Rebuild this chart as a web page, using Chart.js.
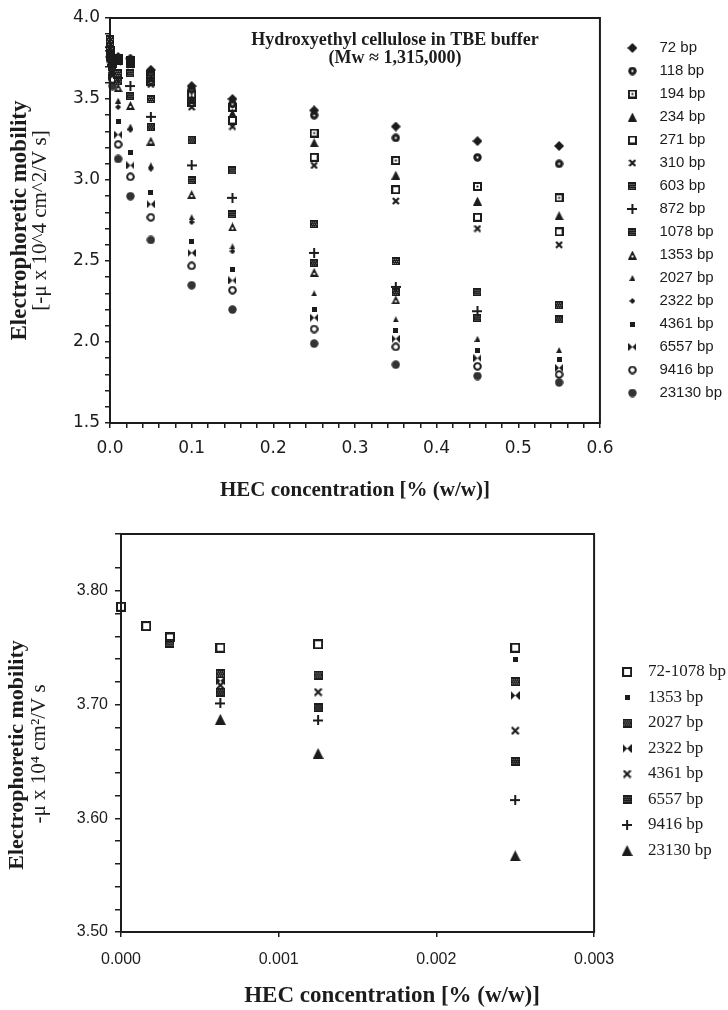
<!DOCTYPE html>
<html>
<head>
<meta charset="utf-8">
<script src="https://cdn.jsdelivr.net/npm/chart.js@4.4.1/dist/chart.umd.min.js"></script>
<style>
  html, body { margin: 0; padding: 0; background: #fff; width: 728px; height: 1010px; overflow: hidden; }
  canvas { position: absolute; left: 0; }
  #topChart { top: 0; }
  #lowChart { top: 505px; }
</style>
</head>
<body>
<canvas id="topChart" width="732" height="505"></canvas>
<canvas id="lowChart" width="736" height="505"></canvas>
<script>
/* ---------- upper panel: HEC 0 - 0.55 % ---------- */
const topConc = [0, 0.003, 0.01, 0.025, 0.05, 0.1, 0.15, 0.25, 0.35, 0.45, 0.55];
const bp72    = [3.76, 3.74, 3.76, 3.75, 3.68, 3.58, 3.50, 3.43, 3.33, 3.24, 3.21];
const bp118   = [3.77, 3.73, 3.75, 3.74, 3.66, 3.56, 3.47, 3.40, 3.26, 3.14, 3.10];
const bp194   = [3.78, 3.73, 3.75, 3.74, 3.65, 3.53, 3.45, 3.29, 3.12, 2.96, 2.89];
const bp234   = [3.79, 3.72, 3.74, 3.73, 3.63, 3.50, 3.41, 3.23, 3.03, 2.87, 2.78];
const bp271   = [3.80, 3.72, 3.74, 3.72, 3.61, 3.48, 3.37, 3.14, 2.94, 2.77, 2.68];
const bp310   = [3.81, 3.71, 3.73, 3.71, 3.59, 3.45, 3.33, 3.09, 2.87, 2.70, 2.60];
const bp603   = [3.87, 3.72, 3.66, 3.66, 3.50, 3.25, 3.06, 2.73, 2.50, 2.31, 2.23];
const bp872   = [3.82, 3.71, 3.63, 3.58, 3.39, 3.09, 2.89, 2.55, 2.34, 2.19, null];
const bp1078  = [3.84, 3.70, 3.61, 3.52, 3.33, 3.00, 2.79, 2.49, 2.31, 2.15, 2.14];
const bp1353  = [3.80, 3.69, 3.57, 3.46, 3.24, 2.91, 2.71, 2.43, 2.26, null, null];
const bp2027  = [3.78, 3.68, 3.49, 3.33, 3.09, 2.77, 2.59, 2.30, 2.14, 2.02, 1.95];
const bp2322  = [3.77, 3.67, 3.45, 3.31, 3.07, 2.74, 2.56, null, null, null, null];
const bp4361  = [3.79, 3.66, 3.36, 3.17, 2.92, 2.62, 2.45, 2.20, 2.07, 1.95, 1.89];
const bp6557  = [3.76, 3.64, 3.28, 3.09, 2.85, 2.55, 2.38, 2.15, 2.02, 1.90, 1.84];
const bp9416  = [3.75, 3.62, 3.22, 3.02, 2.77, 2.47, 2.32, 2.08, 1.97, 1.85, 1.80];
const bp23130 = [3.74, 3.58, 3.13, 2.90, 2.63, 2.35, 2.20, 1.99, 1.86, 1.79, 1.75];

/* ---------- lower panel: HEC 0 - 0.003 % ---------- */
const lowConc      = [0, 0.00016, 0.00031, 0.00063, 0.00125, 0.0025];
const low72to1078  = [3.786, 3.769, 3.759, 3.750, 3.753, 3.750];
const low1353      = [null, null, null, null, null, 3.740];
const low2027      = [null, null, 3.754, 3.727, 3.726, 3.720];
const low2322      = [null, null, null, 3.721, null, 3.708];
const low4361      = [null, null, null, 3.717, 3.711, 3.677];
const low6557      = [null, null, null, 3.711, 3.697, 3.650];
const low9416      = [null, null, null, 3.701, 3.686, 3.616];
const low23130     = [null, null, null, 3.687, 3.657, 3.567];

const INK = '#1c1c1c';

// little bitmap markers, the scan uses a lot of odd symbols
function glyph(size, draw) {
  const c = document.createElement('canvas');
  c.width = size; c.height = size;
  const g = c.getContext('2d');
  g.fillStyle = INK; g.strokeStyle = INK; g.lineWidth = 2;
  draw(g, size);
  return c;
}
function speckled(s, light) {
  return glyph(s, g => {
    g.fillRect(0, 0, s, s);
    g.fillStyle = light;
    for (let i = 1; i < s - 1; i++)
      for (let j = 1; j < s - 1; j++)
        if ((i * 2 + j) % 4 === 0) g.fillRect(i, j, 1, 1);
  });
}
const diamond = s => glyph(s, g => {
  g.beginPath(); g.moveTo(s / 2, 0); g.lineTo(s, s / 2); g.lineTo(s / 2, s); g.lineTo(0, s / 2); g.closePath(); g.fill();
});
const dotCircle = s => glyph(s, g => {
  g.beginPath(); g.arc(s / 2, s / 2, s / 2 - 0.3, 0, Math.PI * 2); g.fill();
  g.fillStyle = '#fff'; g.fillRect(s / 2 - 1, s / 2 - 1, 2, 2);
});
const dotSquare = s => glyph(s, g => { g.strokeRect(1, 1, s - 2, s - 2); g.fillRect(s / 2 - 1, s / 2 - 1, 2, 2); });
const openSquare = s => glyph(s, g => g.strokeRect(1, 1, s - 2, s - 2));
const solidSquare = s => glyph(s, g => g.fillRect(0, 0, s, s));
const triangle = (s, hole) => glyph(s, g => {
  g.beginPath(); g.moveTo(s / 2, 0); g.lineTo(s, s); g.lineTo(0, s); g.closePath(); g.fill();
  if (hole) { g.fillStyle = '#fff'; g.fillRect(s / 2 - 1, s * 0.55, 2, 2); }
});
const cross = s => glyph(s, g => {
  g.lineWidth = 2.2; g.beginPath();
  g.moveTo(1, 1); g.lineTo(s - 1, s - 1); g.moveTo(s - 1, 1); g.lineTo(1, s - 1); g.stroke();
});
const plus = s => glyph(s, g => { g.fillRect(0, s / 2 - 1, s, 2); g.fillRect(s / 2 - 1, 0, 2, s); });
const bowtie = s => glyph(s, g => {
  g.beginPath();
  g.moveTo(0, 0); g.lineTo(s / 2, s / 2); g.lineTo(0, s); g.closePath();
  g.moveTo(s, 0); g.lineTo(s / 2, s / 2); g.lineTo(s, s); g.closePath();
  g.fill();
});
const openCircle = s => glyph(s, g => { g.beginPath(); g.arc(s / 2, s / 2, s / 2 - 1.2, 0, Math.PI * 2); g.stroke(); });
const solidCircle = s => glyph(s, g => {
  g.fillStyle = '#333'; g.beginPath(); g.arc(s / 2, s / 2, s / 2 - 0.3, 0, Math.PI * 2); g.fill();
});

const topSeries = [
  ['72 bp', bp72, diamond(10)],
  ['118 bp', bp118, dotCircle(9)],
  ['194 bp', bp194, dotSquare(9)],
  ['234 bp', bp234, triangle(9)],
  ['271 bp', bp271, openSquare(9)],
  ['310 bp', bp310, cross(8)],
  ['603 bp', bp603, speckled(8, '#8a8a8a')],
  ['872 bp', bp872, plus(10)],
  ['1078 bp', bp1078, speckled(8, '#777')],
  ['1353 bp', bp1353, triangle(9, true)],
  ['2027 bp', bp2027, triangle(6)],
  ['2322 bp', bp2322, diamond(6)],
  ['4361 bp', bp4361, solidSquare(5)],
  ['6557 bp', bp6557, bowtie(8)],
  ['9416 bp', bp9416, openCircle(9)],
  ['23130 bp', bp23130, solidCircle(9)]
];

const lowSeries = [
  ['72-1078 bp', low72to1078, openSquare(10)],
  ['1353 bp', low1353, solidSquare(5)],
  ['2027 bp', low2027, speckled(9, '#9a9a9a')],
  ['2322 bp', low2322, bowtie(9)],
  ['4361 bp', low4361, cross(9)],
  ['6557 bp', low6557, speckled(9, '#666')],
  ['9416 bp', low9416, plus(10)],
  ['23130 bp', low23130, triangle(11)]
];

function pts(xs, ys) {
  return xs.map((x, i) => ({ x, y: ys[i] })).filter(p => p.y != null);
}
function toDatasets(series, xs) {
  return series.map(([label, ys, style]) => ({
    label, data: pts(xs, ys), pointStyle: style, pointRadius: 4, clip: false
  }));
}
const isStep = (v, step) => Math.abs(v / step - Math.round(v / step)) < 1e-6;
// the scan's lower titles sit off centre; pad with spaces to nudge them
const pad = n => ' '.repeat(n);

// box round the plot area
const frame = {
  id: 'frame',
  afterDraw(chart) {
    const { ctx, chartArea: a } = chart;
    ctx.save();
    ctx.strokeStyle = INK; ctx.lineWidth = 2;
    ctx.strokeRect(a.left, a.top, a.right - a.left, a.bottom - a.top);
    ctx.restore();
  }
};

// caption inside the upper plot
const caption = {
  id: 'caption',
  afterDraw(chart, args, opts) {
    if (!opts.lines) return;
    const { ctx, scales } = chart;
    ctx.save();
    ctx.font = opts.font; ctx.fillStyle = INK;
    ctx.textAlign = 'center'; ctx.textBaseline = 'middle';
    const x = scales.x.getPixelForValue(opts.x);
    opts.lines.forEach((t, i) => ctx.fillText(t, x, scales.y.getPixelForValue(opts.y[i])));
    ctx.restore();
  }
};

function tickGrid(len) {
  return { drawOnChartArea: false, drawTicks: true, tickLength: len, color: INK, lineWidth: 1.5 };
}
const hidden = {
  ticks: { display: false },
  grid: { display: false, drawTicks: false },
  border: { display: false }
};

new Chart(document.getElementById('topChart'), {
  type: 'scatter',
  data: { datasets: toDatasets(topSeries, topConc) },
  options: {
    responsive: false, animation: false, events: [],
    layout: { padding: { top: 18, left: 0, right: 0, bottom: 0 } },
    plugins: {
      tooltip: { enabled: false },
      legend: {
        position: 'right', align: 'start', maxWidth: 300,
        title: { display: true, text: '', font: { size: 10 }, padding: { top: 0, bottom: 2.5 } },
        labels: {
          usePointStyle: true, pointStyleWidth: 39, padding: 8, color: INK,
          font: { family: 'Liberation Sans', size: 15 }
        }
      },
      caption: {
        x: 0.349, y: [3.864, 3.753],
        lines: ['Hydroxyethyl cellulose in TBE buffer', '(Mw \u2248 1,315,000)'],
        font: 'bold 18px "Liberation Serif"'
      }
    },
    scales: {
      x: {
        min: 0, max: 0.6,
        afterFit: s => { s.height = 82; },
        ticks: {
          stepSize: 0.02, autoSkip: false, maxRotation: 0, padding: 10, color: INK,
          font: { family: 'DejaVu Sans', size: 17 },
          callback: v => isStep(v, 0.1) ? v.toFixed(1) : ''
        },
        grid: tickGrid(5),
        border: { color: INK, width: 2 },
        title: {
          display: true, text: 'HEC concentration [% (w/w)]', color: INK,
          font: { family: 'Liberation Serif', size: 21, weight: 'bold' },
          padding: { top: 0, bottom: 1.4 }
        }
      },
      y: {
        min: 1.5, max: 4.0,
        afterFit: s => { s.width = 82; },
        ticks: {
          stepSize: 0.1, autoSkip: false, padding: 5, color: INK,
          font: { family: 'DejaVu Sans', size: 17 },
          callback: v => isStep(v, 0.5) ? v.toFixed(1) : ''
        },
        grid: tickGrid(5),
        border: { color: INK, width: 2 },
        title: {
          display: true, text: '[-\u03bc x 10^4 cm^2/V s]', color: INK,
          font: { family: 'Liberation Serif', size: 21 },
          padding: { top: 0, bottom: 0 }
        }
      },
      yName: {
        position: 'left', weight: 1, ...hidden,
        afterFit: s => { s.width = 28; },
        title: {
          display: true, text: 'Electrophoretic mobility', color: INK,
          font: { family: 'Liberation Serif', size: 23, weight: 'bold' },
          padding: { top: 6.2, bottom: 0 }
        }
      },
      gap: { position: 'right', ...hidden, afterFit: s => { s.width = 5; } }
    }
  },
  plugins: [frame, caption]
});

new Chart(document.getElementById('lowChart'), {
  type: 'scatter',
  data: { datasets: toDatasets(lowSeries, lowConc) },
  options: {
    responsive: false, animation: false, events: [],
    layout: { padding: { top: 29, left: 0, right: 0, bottom: 0 } },
    plugins: {
      tooltip: { enabled: false },
      legend: {
        position: 'right', align: 'start', maxWidth: 300,
        title: { display: true, text: '', font: { size: 10 }, padding: { top: 0, bottom: 109 } },
        labels: {
          usePointStyle: true, pointStyleWidth: 25, padding: 8.5, color: INK,
          font: { family: 'Liberation Serif', size: 17 }
        }
      }
    },
    scales: {
      x: {
        min: 0, max: 0.003,
        afterFit: s => { s.height = 78; },
        ticks: {
          stepSize: 0.001, autoSkip: false, maxRotation: 0, padding: 13, color: INK,
          font: { family: 'Liberation Sans', size: 16 },
          callback: v => v.toFixed(3)
        },
        grid: tickGrid(5),
        border: { color: INK, width: 2 },
        title: {
          display: true, text: pad(12) + 'HEC concentration [% (w/w)]', color: INK,
          font: { family: 'Liberation Serif', size: 23, weight: 'bold' },
          padding: { top: 0, bottom: 0 }
        }
      },
      y: {
        min: 3.5, max: 3.85,
        afterFit: s => { s.width = 94; },
        ticks: {
          stepSize: 0.02, autoSkip: false, padding: 7, color: INK,
          font: { family: 'Liberation Sans', size: 16 },
          callback: v => isStep(v, 0.1) ? v.toFixed(2) : ''
        },
        grid: tickGrid(6),
        border: { color: INK, width: 2 },
        title: {
          display: true, text: '-\u03bc x 10\u2074 cm\u00b2/V s' + pad(8), color: INK,
          font: { family: 'Liberation Serif', size: 21 },
          padding: { top: 0, bottom: 0 }
        }
      },
      yName: {
        position: 'left', weight: 1, ...hidden,
        afterFit: s => { s.width = 27; },
        title: {
          display: true, text: 'Electrophoretic mobility' + pad(8), color: INK,
          font: { family: 'Liberation Serif', size: 22, weight: 'bold' },
          padding: { top: 3.8, bottom: 0 }
        }
      },
      gap: { position: 'right', ...hidden, afterFit: s => { s.width = 12; } }
    }
  },
  plugins: [frame]
});
</script>
</body>
</html>
